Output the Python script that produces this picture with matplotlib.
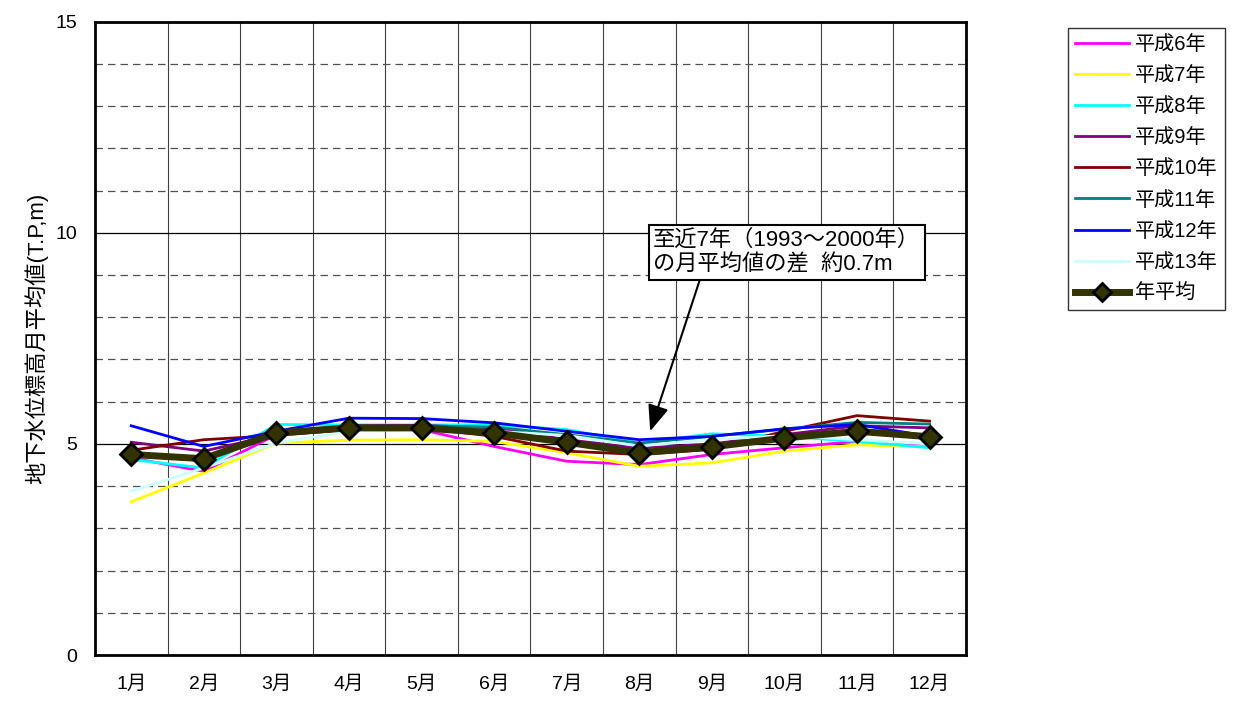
import matplotlib.pyplot as plt
import numpy as np
from matplotlib.ticker import MultipleLocator

plt.rcParams['font.family'] = ['Liberation Sans', 'Noto Sans CJK JP', 'DejaVu Sans']

months = ['1月', '2月', '3月', '4月', '5月', '6月', '7月', '8月', '9月', '10月', '11月', '12月']

h6 = [4.67, 4.35, 5.22, 5.33, 5.34, 4.94, 4.59, 4.51, 4.75, 4.91, 5.06, 4.96]
h7 = [3.63, 4.31, 5.02, 5.09, 5.10, 5.06, 4.79, 4.47, 4.55, 4.83, 4.98, 4.93]
h8 = [4.63, 4.43, 5.46, 5.45, 5.45, 5.45, 5.34, 5.02, 5.24, 5.18, 5.06, 4.91]
h9 = [5.04, 4.83, 5.22, 5.43, 5.44, 5.38, 5.10, 4.90, 5.00, 5.22, 5.43, 5.38]
h10 = [4.85, 5.10, 5.20, 5.34, 5.38, 5.18, 4.83, 4.75, 4.87, 5.30, 5.67, 5.54]
h11 = [4.75, 4.60, 5.28, 5.40, 5.42, 5.40, 5.22, 5.02, 5.18, 5.35, 5.51, 5.47]
h12 = [5.43, 4.94, 5.30, 5.61, 5.60, 5.50, 5.30, 5.10, 5.18, 5.36, 5.46, 5.18]
h13 = [3.88, 4.43, 5.02, 5.30, 5.35, 5.30, 5.20, 4.95, 5.10, 5.20, 5.10, 5.00]
avg = [4.75, 4.65, 5.26, 5.38, 5.38, 5.26, 5.04, 4.79, 4.93, 5.14, 5.30, 5.17]

series = [
    ('平成6年', h6, '#ff00ff'),
    ('平成7年', h7, '#ffff00'),
    ('平成8年', h8, '#00ffff'),
    ('平成9年', h9, '#800080'),
    ('平成10年', h10, '#800000'),
    ('平成11年', h11, '#008080'),
    ('平成12年', h12, '#0000ff'),
    ('平成13年', h13, '#ccffff'),
]

fig = plt.figure(figsize=(12.46, 7.06), dpi=100)
ax = fig.add_axes([0.0762, 0.0722, 0.699, 0.897])

x = np.arange(len(months))
for name, vals, col in series:
    ax.plot(x, vals, color=col, lw=2, label=name, zorder=3)
ax.plot(x, avg, color='#333300', lw=5, marker='D', ms=11, mfc='#333300',
        mec='black', mew=2, label='年平均', zorder=4)

ax.set_xlim(-0.5, 11.5)
ax.set_ylim(0, 15)
ax.set_xticks(x)
ax.set_xticklabels(months, fontsize=14)
ax.set_yticks([0, 5, 10, 15])
ax.tick_params(axis='y', labelsize=14, length=0, pad=13)
ax.tick_params(axis='x', length=0, pad=15)
ax.yaxis.set_minor_locator(MultipleLocator(1))
ax.xaxis.set_minor_locator(MultipleLocator(1, offset=0.5))
ax.tick_params(which='minor', length=0)
ax.grid(axis='y', which='major', color='black', lw=0.9, ls='-')
ax.grid(axis='y', which='minor', color='#505050', lw=0.9, ls=(0, (6, 4)))
ax.grid(axis='x', which='minor', color='#404040', lw=0.8, ls='-')
ax.set_axisbelow(True)
for s in ax.spines.values():
    s.set_color('black')
    s.set_linewidth(2)

ax.set_ylabel('地下水位標高月平均値(T.P,m)', fontsize=16, labelpad=5)

ax.annotate('至近7年（1993～2000年）\nの月平均値の差  約0.7m', xy=(7.15, 5.3), xytext=(9.03, 9.53),
            fontsize=16, ha='center', va='center', multialignment='left', linespacing=1.2,
            bbox=dict(boxstyle='square,pad=0.2', fc='white', ec='black', lw=1.5),
            arrowprops=dict(arrowstyle='-|>,head_length=1.0,head_width=0.4', color='black', lw=1.5,
                            shrinkA=0, shrinkB=0, relpos=(0.18, 0)),
            zorder=6)

leg = ax.legend(loc='upper left', bbox_to_anchor=(1.117, 0.99), fontsize=14.5,
                frameon=True, fancybox=False, edgecolor='black', handlelength=2.7,
                borderpad=0.35, labelspacing=0.6, handletextpad=0.3, borderaxespad=0,
                markerscale=0.8)
leg.get_frame().set_linewidth(1)

fig.savefig('out.png', dpi=100)
